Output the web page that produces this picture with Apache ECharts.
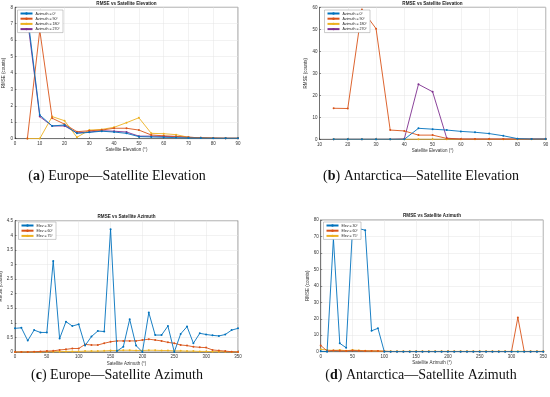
<!DOCTYPE html>
<html><head><meta charset="utf-8">
<script src="https://cdn.jsdelivr.net/npm/echarts@6/dist/echarts.min.js"></script>
<style>html,body{margin:0;padding:0;background:#fff}#c{width:550px;height:397px}</style>
</head><body><div id="c"></div>
<script>
// ---- data ----
const elevA = [5,10,15,20,25,30,35,40,45,50,55,60,65,70,75,80,85,90];
const euAz0   = [7.6,1.44,0.77,0.83,0.32,0.38,0.45,0.40,0.32,0.12,0.10,0.08,0.06,0.04,0.03,0.02,0.02,0.02];
const euAz90  = [0,6.6,1.24,0.88,0.42,0.48,0.52,0.63,0.63,0.52,0.22,0.17,0.13,0.08,0.05,0.03,0.02,0.02];
const euAz180 = [0,0,1.34,1.09,0.08,0.52,0.56,0.69,0.97,1.27,0.32,0.30,0.24,0.08,0.05,0.03,0.02,0.02];
const euAz270 = [7.3,1.34,0.77,0.77,0.35,0.40,0.48,0.45,0.40,0.15,0.15,0.13,0.13,0.08,0.05,0.03,0.02,0.02];

const elevB = [15,20,25,30,35,40,45,50,55,60,65,70,75,80,85,90];
const anAz0   = [0,0,0,0,0,0,5.0,4.6,4.2,3.6,3.2,2.6,1.6,0.3,0.1,0.1];
const anAz90  = [14.1,14.0,59.0,50.3,4.2,3.8,1.9,1.9,0.4,0.1,0.1,0.1,0.1,0.1,0.1,0.1];
const anAz180 = [0,0,0,0,0,0,0,0,0,0,0,0,0,0,0,0];
const anAz270 = [0,0,0,0,0,0.2,25.0,21.6,0.5,0.1,0.1,0.1,0.1,0.1,0.1,0.1];

const azC = [0,10,20,30,40,50,60,70,80,90,100,110,120,130,140,150,160,170,180,190,200,210,220,230,240,250,260,270,280,290,300,310,320,330,340,350];
const euEl30 = [0.81,0.83,0.39,0.75,0.67,0.67,3.12,0.46,1.04,0.89,0.95,0.22,0.53,0.72,0.70,4.21,0.03,0.18,1.12,0.22,0.0,1.35,0.58,0.58,0.89,0.0,0.62,0.87,0.30,0.64,0.60,0.57,0.55,0.60,0.75,0.81];
const euEl60 = [0,0,0,0.01,0.02,0.03,0.04,0.07,0.09,0.12,0.12,0.26,0.24,0.24,0.30,0.35,0.38,0.38,0.38,0.38,0.41,0.44,0.41,0.38,0.33,0.30,0.24,0.22,0.18,0.16,0.15,0.07,0.05,0.03,0.01,0];
const euEl75 = [0,0,0,0,0,0.01,0.01,0.01,0.02,0.02,0.02,0.03,0.03,0.03,0.04,0.05,0.05,0.06,0.06,0.05,0.05,0.06,0.06,0.05,0.05,0.04,0.04,0.03,0.03,0.02,0.02,0.01,0.01,0.01,0,0];

const azD = azC;
const anEl30 = [0.3,0,68.7,5.1,2.4,74.8,74.8,73.8,12.7,14.2,0,0,0,0,0,0,0,0,0,0,0,0,0,0,0,0,0,0,0,0,0,0,0,0,0,0];
const anEl60 = [3.8,0.5,0.8,0.6,0.5,0.8,0.6,0.5,0.5,0.5,0.3,0.1,0.1,0.1,0.1,0.1,0.1,0.1,0.1,0.1,0.1,0.1,0.1,0.1,0.1,0.1,0.1,0.1,0.1,0.1,0.1,20.8,0.1,0.1,0.1,0.1];
const anEl75 = [1.5,1.0,0.8,1.0,0.6,1.0,0.8,0.6,0.5,0.4,0.3,0.2,0.2,0.2,0.2,0.2,0.2,0.2,0.2,0.2,0.2,0.2,0.2,0.2,0.2,0.2,0.2,0.2,0.2,0.2,0.2,0.2,0.2,0.2,0.2,0.2];

const azNames = ['Azimuth = 0°','Azimuth = 90°','Azimuth = 180°','Azimuth = 270°'];
const elNames = ['Elev = 30°','Elev = 60°','Elev = 75°'];
const titleElev = 'RMSE vs Satellite Elevation';
const titleAz = 'RMSE vs Satellite Azimuth';
const xNameElev = 'Satellite Elevation (°)';
const xNameAz = 'Satellite Azimuth (°)';
const yName = 'RMSE (counts)';
const captions = [['a',' Europe—Satellite Elevation'],['b',' Antarctica—Satellite Elevation'],['c',' Europe—Satellite Azimuth'],['d',' Antarctica—Satellite Azimuth']];

const colors = ['#0072BD','#D95319','#EDB120','#7E2F8E'];

// ---- layout ----
const grids = [
  {left:15, top:7.3, width:223, height:131.3},
  {left:319.5, top:7.3, width:226.2, height:132},
  {left:15, top:220.7, width:223, height:131.3},
  {left:320.7, top:220, width:222.6, height:131.7}
];
const xr = [[0,90,10],[10,90,10],[0,350,50],[0,350,50]];
const yr = [[0,8,1],[0,60,10],[0,4.5,0.5],[0,80,10]];
const xNames = [xNameElev,xNameElev,xNameAz,xNameAz];

const lblStyle = {fontSize:4.5, color:'#333', fontFamily:'Liberation Sans'};
const xAxis = grids.map((g,i)=>({
  gridIndex:i, type:'value', min:xr[i][0], max:xr[i][1], interval:xr[i][2],
  name:xNames[i], nameLocation:'middle', nameGap:9,
  nameTextStyle:{fontSize:4.5,color:'#333',fontFamily:'Liberation Sans'},
  axisLine:{show:true, onZero:false, lineStyle:{color:'#262626',width:0.5}},
  axisTick:{show:true, inside:true, length:1.5, lineStyle:{color:'#262626',width:0.5}},
  axisLabel:Object.assign({margin:2.5}, lblStyle),
  splitLine:{show:true, lineStyle:{color:'#e4e4e4',width:0.5}}
}));
const yAxis = grids.map((g,i)=>({
  gridIndex:i, type:'value', min:yr[i][0], max:yr[i][1], interval:yr[i][2],
  name:yName, nameLocation:'middle', nameGap:(i===2?8:(i%2===0?6:7)),
  nameTextStyle:{fontSize:4.5,color:'#333',fontFamily:'Liberation Sans'},
  axisLine:{show:true, lineStyle:{color:'#262626',width:0.5}},
  axisTick:{show:true, inside:true, length:1.5, lineStyle:{color:'#262626',width:0.5}},
  axisLabel:Object.assign({margin:2}, lblStyle),
  splitLine:{show:true, lineStyle:{color:'#e4e4e4',width:0.5}}
}));

function mk(name, xs, ys, gi, ci){
  return {name:name, type:'line', xAxisIndex:gi, yAxisIndex:gi,
    data: xs.map((x,k)=>[x, ys[k]]),
    symbol:'circle', symbolSize:2, showSymbol:true,
    lineStyle:{width:0.9,color:colors[ci]}, itemStyle:{color:colors[ci]},
    emphasis:{disabled:true}, animation:false, z:2+ (3-ci)};
}
const series = [
  mk(azNames[0],elevA,euAz0,0,0), mk(azNames[1],elevA,euAz90,0,1), mk(azNames[2],elevA,euAz180,0,2), mk(azNames[3],elevA,euAz270,0,3),
  mk(azNames[0],elevB,anAz0,1,0), mk(azNames[1],elevB,anAz90,1,1), mk(azNames[2],elevB,anAz180,1,2), mk(azNames[3],elevB,anAz270,1,3),
  mk(elNames[0],azC,euEl30,2,0), mk(elNames[1],azC,euEl60,2,1), mk(elNames[2],azC,euEl75,2,2),
  mk(elNames[0],azD,anEl30,3,0), mk(elNames[1],azD,anEl60,3,1), mk(elNames[2],azD,anEl75,3,2)
];

function lg(names, left, top){
  return {data:names, left:left, top:top, orient:'vertical', itemWidth:12, itemHeight:3, itemGap:1.2,
    padding:[1.5,3,1.5,2], backgroundColor:'#fff', borderColor:'#999', borderWidth:0.5, borderRadius:0,
    textStyle:{fontSize:3.6,color:'#222',fontFamily:'Liberation Sans',padding:[0,0,0,-2]}, selectedMode:false, z:10};
}
const legend = [lg(azNames,17.5,10), lg(azNames,324.5,10), lg(elNames,18.5,222), lg(elNames,323.5,222)];

const graphic = [];
const tpos = [[126.5,4,titleElev],[432.5,4,titleElev],[126.5,216.5,titleAz],[432,216,titleAz]];
tpos.forEach(t=>graphic.push({type:'text', x:t[0], y:t[1], silent:true,
  style:{text:t[2], align:'center', verticalAlign:'middle', fontSize:4.6, fontWeight:'bold', fill:'#222', fontFamily:'Liberation Sans'}}));
const cpos = [[117,176],[421,176],[117,375],[421,375]];
captions.forEach((c,i)=>graphic.push({type:'text', x:cpos[i][0], y:cpos[i][1], silent:true,
  style:{text:'{n|(}{b|'+c[0]+'}{n|)'+c[1]+'}', align:'center', verticalAlign:'middle',
    rich:{n:{fontSize:14,fontFamily:'Liberation Serif',fill:'#111'}, b:{fontSize:14,fontWeight:'bold',fontFamily:'Liberation Serif',fill:'#111'}}}}));

const chart = echarts.init(document.getElementById('c'), null, {renderer:'canvas'});
chart.setOption({
  animation:false, backgroundColor:'#fff',
  grid: grids.map(g=>Object.assign({show:true, borderColor:'#262626', borderWidth:0.5, backgroundColor:'#fff', containLabel:false, outerBoundsMode:'none'}, g)),
  xAxis:xAxis, yAxis:yAxis, series:series, legend:legend, graphic:graphic
});
</script></body></html>
